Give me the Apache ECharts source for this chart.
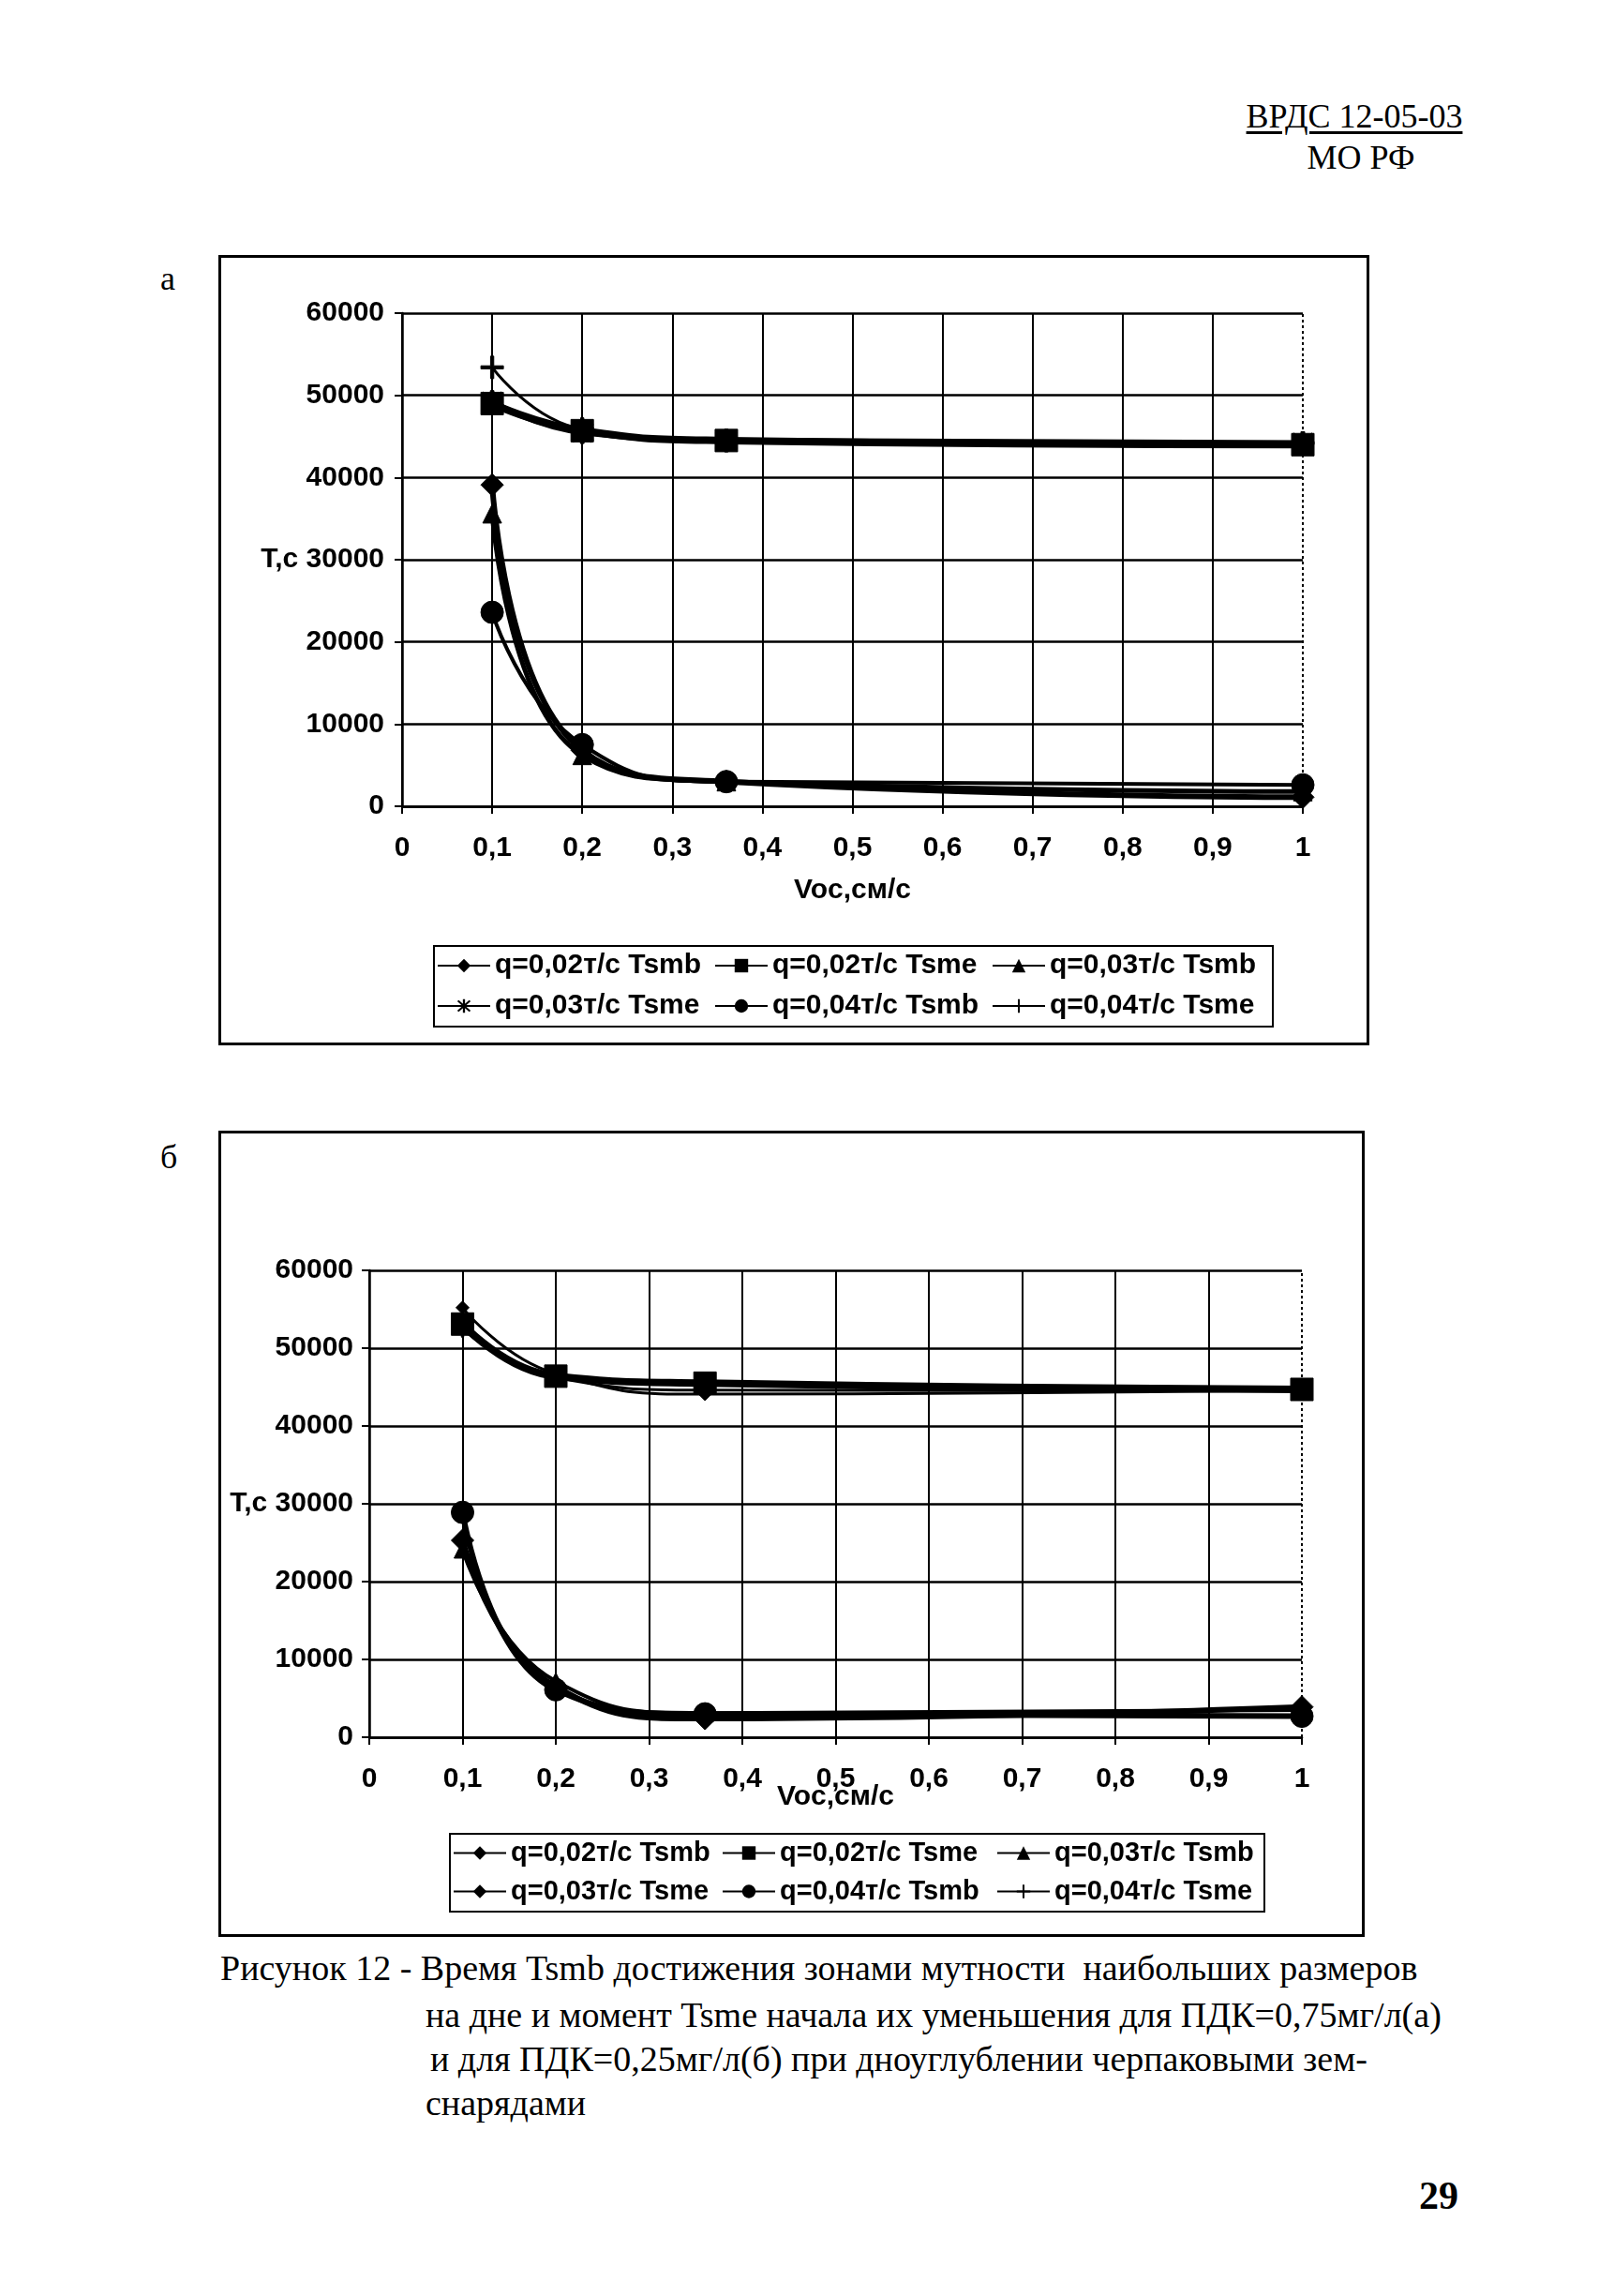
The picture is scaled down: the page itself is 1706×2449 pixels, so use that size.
<!DOCTYPE html>
<html>
<head>
<meta charset="utf-8">
<script src="https://cdn.jsdelivr.net/npm/echarts@6/dist/echarts.min.js"></script>
<style>
  html,body{margin:0;padding:0;background:#fff;}
  body{width:1706px;height:2449px;position:relative;overflow:hidden;}
  .t{position:absolute;white-space:nowrap;color:#000;}
  .serif{font-family:"Liberation Serif","Times New Roman",serif;}
  #chartA{position:absolute;left:233px;top:272px;width:1228px;height:843px;}
  #chartB{position:absolute;left:233px;top:1206px;width:1223px;height:860px;}
</style>
</head>
<body>
<div class="t serif" style="left:1295px;top:104px;width:300px;text-align:center;font-size:36px;line-height:40px;text-decoration:underline;text-decoration-thickness:3px;text-underline-offset:4px;">ВРДС 12-05-03</div>
<div class="t serif" style="left:1302px;top:148px;width:300px;text-align:center;font-size:36px;line-height:40px;">МО РФ</div>
<div class="t serif" style="left:171px;top:277px;font-size:36px;line-height:40px;">а</div>
<div id="chartA"></div>
<div class="t serif" style="left:171px;top:1214px;font-size:36px;line-height:40px;">б</div>
<div id="chartB"></div>
<div class="t serif" style="left:235px;top:2078px;font-size:38px;line-height:42px;">Рисунок 12 - Время Tsmb достижения зонами мутности&nbsp; наибольших размеров</div>
<div class="t serif" style="left:454px;top:2128px;font-size:38px;line-height:42px;">на дне и момент Tsme начала их уменьшения для ПДК=0,75мг/л(а)</div>
<div class="t serif" style="left:459px;top:2175px;font-size:38px;line-height:42px;">и для ПДК=0,25мг/л(б) при дноуглублении черпаковыми зем-</div>
<div class="t serif" style="left:454px;top:2222px;font-size:38px;line-height:42px;">снарядами</div>
<div class="t serif" style="left:1514px;top:2320px;font-size:42px;line-height:44px;font-weight:bold;">29</div>
<script>
// ---------- DATA ----------
const X_VALUES = [0.1, 0.2, 0.36, 1];
const SERIES_NAMES = ['q=0,02т/с Tsmb', 'q=0,02т/с Tsme', 'q=0,03т/с Tsmb', 'q=0,03т/с Tsme', 'q=0,04т/с Tsmb', 'q=0,04т/с Tsme'];
const X_AXIS_TITLE = 'Voc,см/с';
const Y_AXIS_TITLE = 'T,c';

// Chart а (ПДК=0,75 мг/л)
const A_Q002_TSMB = [39100, 6800, 3000, 1100];
const A_Q002_TSME = [49000, 45700, 44500, 44000];
const A_Q003_TSMB = [35600, 6200, 3000, 1800];
const A_Q003_TSME = [49200, 45500, 44500, 44200];
const A_Q004_TSMB = [23600, 7500, 3000, 2600];
const A_Q004_TSME = [53400, 45900, 44500, 44200];

// Chart б (ПДК=0,25 мг/л)
const B_Q002_TSMB = [25300, 6500, 2400, 3900];
const B_Q002_TSME = [53100, 46400, 45500, 44700];
const B_Q003_TSMB = [24100, 7200, 3100, 3500];
const B_Q003_TSME = [55200, 46700, 44100, 44600];
const B_Q004_TSMB = [28900, 6100, 3000, 2700];
const B_Q004_TSME = [52500, 46200, 44600, 44500];

// ---------- STYLE ----------
const ASTER = 'path://M4.3 0L5.7 0L5.7 10L4.3 10Z M0.6 1.6L1.6 0.6L9.4 8.4L8.4 9.4Z M8.4 0.6L9.4 1.6L1.6 9.4L0.6 8.4Z';
const PLUS = 'path://M4.3 0L5.7 0L5.7 4.3L10 4.3L10 5.7L5.7 5.7L5.7 10L4.3 10L4.3 5.7L0 5.7L0 4.3L4.3 4.3Z';
const FONT = '"Liberation Sans", Arial, sans-serif';

const STYLE_A = [
  {symbol: 'diamond', size: 24, width: 6},
  {symbol: 'rect', size: 24, width: 8},
  {symbol: 'triangle', size: 20, width: 5},
  {symbol: ASTER, size: 24, width: 6},
  {symbol: 'circle', size: 24, width: 4},
  {symbol: PLUS, size: 24, width: 3}
];
const STYLE_B = [
  {symbol: 'diamond', size: 24, width: 6},
  {symbol: 'rect', size: 24, width: 8},
  {symbol: 'triangle', size: 18, width: 4},
  {symbol: 'diamond', size: 14, width: 3},
  {symbol: 'circle', size: 24, width: 6},
  {symbol: PLUS, size: 18, width: 3}
];

const LAYOUT_A = {
  w: 1228, h: 843,
  grid: {left: 196, top: 62, width: 961, height: 526},
  xLabelMargin: 30, yLabelMargin: 19, nameGap: 75,
  box: {x: 230, y: 737, w: 895, h: 86},
  cols: [233, 529, 825], rows: [759, 802], legendFont: 30
};
const LAYOUT_B = {
  w: 1223, h: 860,
  grid: {left: 161, top: 149, width: 995, height: 498},
  xLabelMargin: 30, yLabelMargin: 17, nameGap: 49,
  box: {x: 247, y: 750, w: 869, h: 83},
  cols: [250, 537, 830], rows: [772, 813], legendFont: 29
};

function fmtX(v) {
  const r = Math.round(v * 10) / 10;
  return String(r).replace('.', ',');
}

function buildOption(values, styles, L) {
  const series = values.map((vals, i) => ({
    name: SERIES_NAMES[i],
    type: 'line',
    smooth: true,
    data: X_VALUES.map((x, k) => [x, vals[k]]),
    symbol: styles[i].symbol,
    symbolSize: styles[i].size,
    showAllSymbol: true,
    itemStyle: {color: '#000', borderColor: '#000'},
    lineStyle: {color: '#000', width: styles[i].width},
    z: 5,
    animation: false
  }));
  series[0].markLine = {
    silent: true, symbol: 'none', label: {show: false},
    lineStyle: {color: '#000', type: [3, 3], width: 2},
    data: [{xAxis: 1}],
    animation: false
  };
  const legends = SERIES_NAMES.map((n, i) => ({
    data: [n],
    left: L.cols[i % 3],
    top: L.rows[Math.floor(i / 3)] - 16,
    itemWidth: 56, itemHeight: 18,
    padding: 0,
    selectedMode: false,
    textStyle: {fontSize: L.legendFont, color: '#000', fontFamily: FONT, fontWeight: 'bold'}
  }));
  return {
    animation: false,
    backgroundColor: '#fff',
    grid: L.grid,
    xAxis: {
      type: 'value', min: 0, max: 1, interval: 0.1,
      name: X_AXIS_TITLE, nameLocation: 'middle', nameGap: L.nameGap, nameMoveOverlap: false,
      nameTextStyle: {fontSize: 30, color: '#000', fontFamily: FONT, fontWeight: 'bold'},
      axisLine: {show: true, onZero: false, lineStyle: {color: '#000', width: 2.5}},
      axisTick: {show: true, length: 8, lineStyle: {color: '#000', width: 2}},
      axisLabel: {margin: L.xLabelMargin, fontSize: 30, color: '#000', fontFamily: FONT, fontWeight: 'bold', formatter: fmtX},
      splitLine: {show: true, showMaxLine: false, lineStyle: {color: '#000', width: 2}}
    },
    yAxis: {
      type: 'value', min: 0, max: 60000, interval: 10000,
      axisLine: {show: true, lineStyle: {color: '#000', width: 2.5}},
      axisTick: {show: true, length: 8, lineStyle: {color: '#000', width: 2}},
      axisLabel: {margin: L.yLabelMargin, fontSize: 30, color: '#000', fontFamily: FONT, fontWeight: 'bold',
        formatter: v => v === 30000 ? Y_AXIS_TITLE + ' ' + v : String(v)},
      splitLine: {show: true, lineStyle: {color: '#000', width: 2.5}}
    },
    legend: legends,
    graphic: [
      {type: 'rect', shape: {x: 1.5, y: 1.5, width: L.w - 3, height: L.h - 3},
        style: {fill: 'none', stroke: '#000', lineWidth: 3}, silent: true},
      {type: 'rect', shape: {x: L.box.x, y: L.box.y, width: L.box.w, height: L.box.h},
        style: {fill: 'none', stroke: '#000', lineWidth: 2}, silent: true}
    ],
    series: series
  };
}

const chartA = echarts.init(document.getElementById('chartA'));
chartA.setOption(buildOption(
  [A_Q002_TSMB, A_Q002_TSME, A_Q003_TSMB, A_Q003_TSME, A_Q004_TSMB, A_Q004_TSME], STYLE_A, LAYOUT_A));
const chartB = echarts.init(document.getElementById('chartB'));
chartB.setOption(buildOption(
  [B_Q002_TSMB, B_Q002_TSME, B_Q003_TSMB, B_Q003_TSME, B_Q004_TSMB, B_Q004_TSME], STYLE_B, LAYOUT_B));
</script>
</body>
</html>
